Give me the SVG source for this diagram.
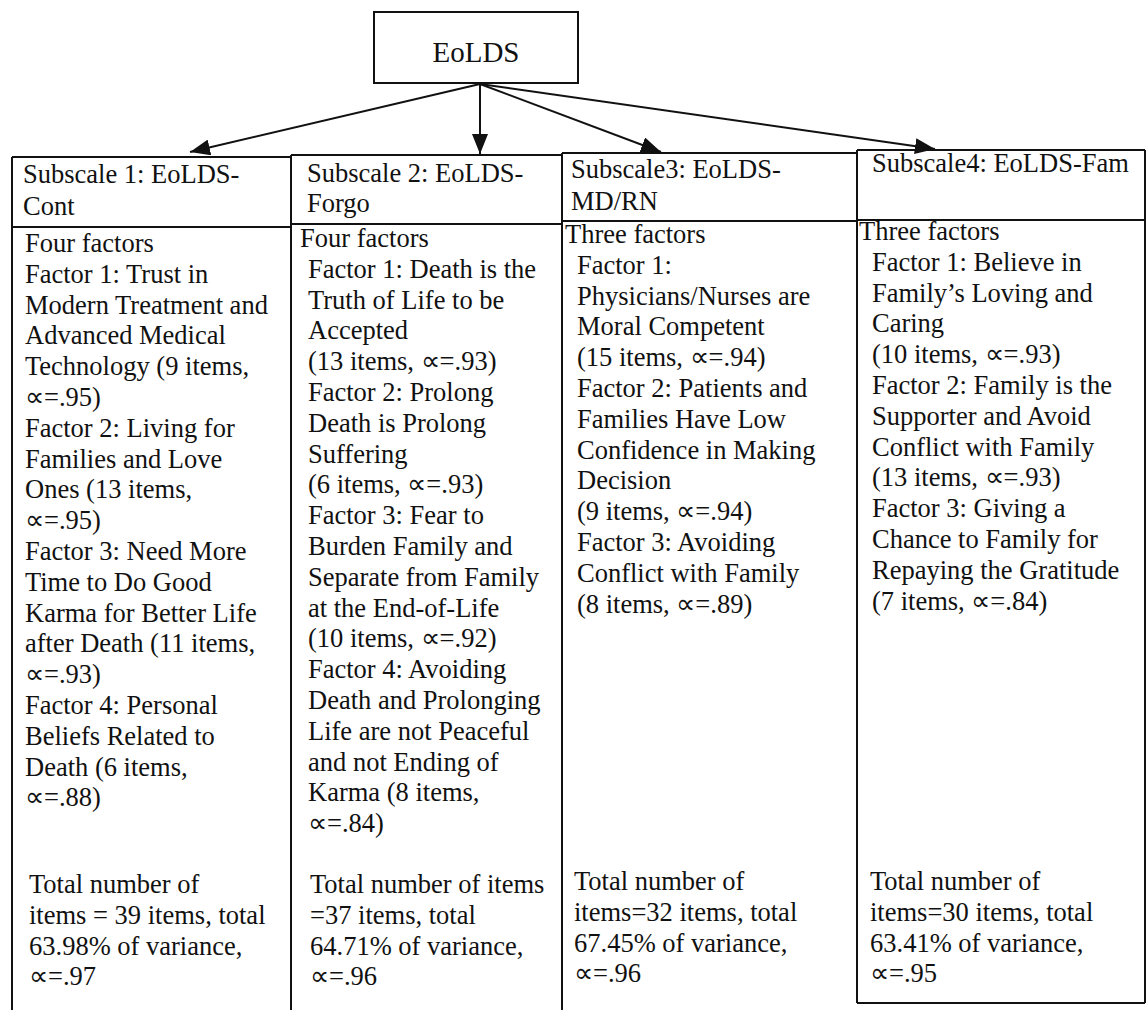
<svg xmlns="http://www.w3.org/2000/svg" width="1148" height="1023" viewBox="0 0 1148 1023">
<defs>
<style>
text{font-family:"Liberation Serif","Times New Roman",serif;font-size:26.5px;fill:#111;}
.title{font-size:29px;}
.ln{stroke:#111;stroke-width:2;fill:none;}
.conn{stroke:#111;stroke-width:2;fill:none;}
</style>
<marker id="ah" viewBox="0 0 20 16" refX="20" refY="8" markerWidth="20" markerHeight="16" markerUnits="userSpaceOnUse" orient="auto">
<path d="M0,0 L20,8 L0,16 Z" fill="#111"/>
</marker>
</defs>
<rect width="1148" height="1023" fill="#fff"/>

<g id="root">
<rect x="374" y="12" width="204" height="71" class="ln"/>
<text class="title" x="476" y="62" text-anchor="middle">EoLDS</text>
</g>

<g id="connectors">
<line class="conn" x1="480" y1="84" x2="190" y2="152" marker-end="url(#ah)"/>
<line class="conn" x1="480" y1="84" x2="480" y2="154" marker-end="url(#ah)"/>
<line class="conn" x1="480" y1="84" x2="661" y2="152" marker-end="url(#ah)"/>
<line class="conn" x1="480" y1="84" x2="935" y2="149" marker-end="url(#ah)"/>
</g>

<g id="subscale1">
<path class="ln" d="M12,157 H291 M12,227 H291 M12,157 V1010"/>
<text x="23" y="183">Subscale 1: EoLDS-</text>
<text x="23" y="215">Cont</text>
<text x="25" y="252">
<tspan x="25" dy="0">Four factors</tspan>
<tspan x="25" dy="30.8">Factor 1: Trust in</tspan>
<tspan x="25" dy="30.8">Modern Treatment and</tspan>
<tspan x="25" dy="30.8">Advanced Medical</tspan>
<tspan x="25" dy="30.8">Technology (9 items,</tspan>
<tspan x="25" dy="30.8">∝=.95)</tspan>
<tspan x="25" dy="30.8">Factor 2: Living for</tspan>
<tspan x="25" dy="30.8">Families and Love</tspan>
<tspan x="25" dy="30.8">Ones (13 items,</tspan>
<tspan x="25" dy="30.8">∝=.95)</tspan>
<tspan x="25" dy="30.8">Factor 3: Need More</tspan>
<tspan x="25" dy="30.8">Time to Do Good</tspan>
<tspan x="25" dy="30.8">Karma for Better Life</tspan>
<tspan x="25" dy="30.8">after Death (11 items,</tspan>
<tspan x="25" dy="30.8">∝=.93)</tspan>
<tspan x="25" dy="30.8">Factor 4: Personal</tspan>
<tspan x="25" dy="30.8">Beliefs Related to</tspan>
<tspan x="25" dy="30.8">Death (6 items,</tspan>
<tspan x="25" dy="30.8">∝=.88)</tspan>
</text>
<text x="29" y="893">
<tspan x="29" dy="0">Total number of</tspan>
<tspan x="29" dy="30.8">items = 39 items, total</tspan>
<tspan x="29" dy="30.8">63.98% of variance,</tspan>
<tspan x="29" dy="30.8">∝=.97</tspan>
</text>
</g>

<g id="subscale2">
<path class="ln" d="M291,155 H562 M291,224 H562 M291,155 V1010"/>
<text x="307" y="182">Subscale 2: EoLDS-</text>
<text x="307" y="212">Forgo</text>
<text x="300" y="247">
<tspan x="300" dy="0">Four factors</tspan>
<tspan x="308" dy="30.8">Factor 1: Death is the</tspan>
<tspan x="308" dy="30.8">Truth of Life to be</tspan>
<tspan x="308" dy="30.8">Accepted</tspan>
<tspan x="308" dy="30.8">(13 items, ∝=.93)</tspan>
<tspan x="308" dy="30.8">Factor 2: Prolong</tspan>
<tspan x="308" dy="30.8">Death is Prolong</tspan>
<tspan x="308" dy="30.8">Suffering</tspan>
<tspan x="308" dy="30.8">(6 items, ∝=.93)</tspan>
<tspan x="308" dy="30.8">Factor 3: Fear to</tspan>
<tspan x="308" dy="30.8">Burden Family and</tspan>
<tspan x="308" dy="30.8">Separate from Family</tspan>
<tspan x="308" dy="30.8">at the End-of-Life</tspan>
<tspan x="308" dy="30.8">(10 items, ∝=.92)</tspan>
<tspan x="308" dy="30.8">Factor 4: Avoiding</tspan>
<tspan x="308" dy="30.8">Death and Prolonging</tspan>
<tspan x="308" dy="30.8">Life are not Peaceful</tspan>
<tspan x="308" dy="30.8">and not Ending of</tspan>
<tspan x="308" dy="30.8">Karma (8 items,</tspan>
<tspan x="308" dy="30.8">∝=.84)</tspan>
</text>
<text x="310" y="893">
<tspan x="310" dy="0">Total number of items</tspan>
<tspan x="310" dy="30.8">=37 items, total</tspan>
<tspan x="310" dy="30.8">64.71% of variance,</tspan>
<tspan x="310" dy="30.8">∝=.96</tspan>
</text>
</g>

<g id="subscale3">
<path class="ln" d="M562,153 H857 M562,221 H857 M562,153 V1010"/>
<text x="571" y="178">Subscale3: EoLDS-</text>
<text x="571" y="210">MD/RN</text>
<text x="565" y="243">
<tspan x="565" dy="0">Three factors</tspan>
<tspan x="577" dy="30.8">Factor 1:</tspan>
<tspan x="577" dy="30.8">Physicians/Nurses are</tspan>
<tspan x="577" dy="30.8">Moral Competent</tspan>
<tspan x="577" dy="30.8">(15 items, ∝=.94)</tspan>
<tspan x="577" dy="30.8">Factor 2: Patients and</tspan>
<tspan x="577" dy="30.8">Families Have Low</tspan>
<tspan x="577" dy="30.8">Confidence in Making</tspan>
<tspan x="577" dy="30.8">Decision</tspan>
<tspan x="577" dy="30.8">(9 items, ∝=.94)</tspan>
<tspan x="577" dy="30.8">Factor 3: Avoiding</tspan>
<tspan x="577" dy="30.8">Conflict with Family</tspan>
<tspan x="577" dy="30.8">(8 items, ∝=.89)</tspan>
</text>
<text x="574" y="890">
<tspan x="574" dy="0">Total number of</tspan>
<tspan x="574" dy="30.8"> items=32 items, total</tspan>
<tspan x="574" dy="30.8">67.45% of variance,</tspan>
<tspan x="574" dy="30.8">∝=.96</tspan>
</text>
</g>

<g id="subscale4">
<path class="ln" d="M857,150 H1145 M857,220 H1145 M857,150 V1003 M1145,150 V1003 M857,1003 H1145"/>
<text x="872" y="172">Subscale4: EoLDS-Fam</text>
<text x="857" y="240">
<tspan x="859" dy="0">Three factors</tspan>
<tspan x="872" dy="30.8">Factor 1: Believe in</tspan>
<tspan x="872" dy="30.8">Family’s Loving and</tspan>
<tspan x="872" dy="30.8">Caring</tspan>
<tspan x="872" dy="30.8">(10 items, ∝=.93)</tspan>
<tspan x="872" dy="30.8">Factor 2: Family is the</tspan>
<tspan x="872" dy="30.8">Supporter and Avoid</tspan>
<tspan x="872" dy="30.8">Conflict with Family</tspan>
<tspan x="872" dy="30.8">(13 items, ∝=.93)</tspan>
<tspan x="872" dy="30.8">Factor 3: Giving a</tspan>
<tspan x="872" dy="30.8">Chance to Family for</tspan>
<tspan x="872" dy="30.8">Repaying the Gratitude</tspan>
<tspan x="872" dy="30.8">(7 items, ∝=.84)</tspan>
</text>
<text x="870" y="890">
<tspan x="870" dy="0">Total number of</tspan>
<tspan x="870" dy="30.8">items=30 items, total</tspan>
<tspan x="870" dy="30.8">63.41% of variance,</tspan>
<tspan x="870" dy="30.8">∝=.95</tspan>
</text>
</g>
</svg>
